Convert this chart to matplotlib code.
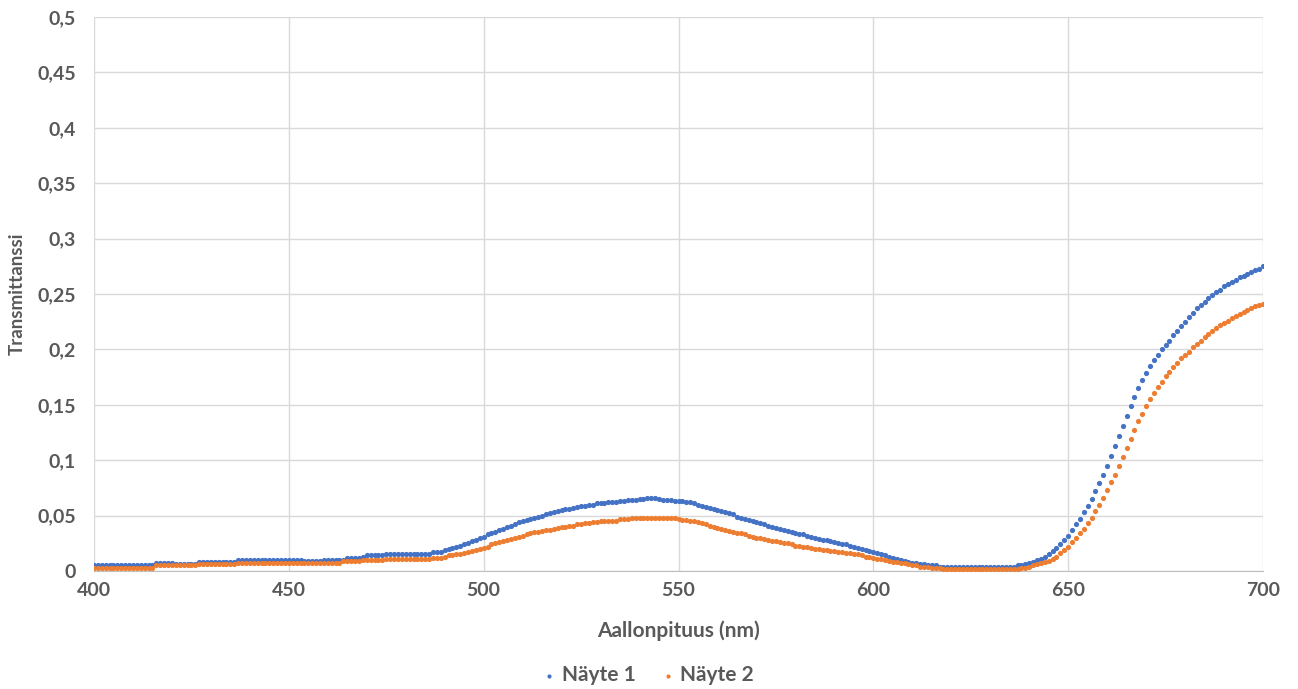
import numpy as np
import matplotlib
matplotlib.use('Agg')
import matplotlib.pyplot as plt
from matplotlib.ticker import FuncFormatter, MultipleLocator

# wavelengths 400..700 nm, one reading per nm
wavelength = np.arange(400, 701)

# Näyte 1 (blue), rows of 10 values: 400-409, 410-419, ...
nayte1 = [
    0.005, 0.005, 0.005, 0.005, 0.005, 0.005, 0.005, 0.005, 0.005, 0.005,
    0.005, 0.005, 0.005, 0.005, 0.005, 0.005, 0.007, 0.007, 0.007, 0.007,
    0.007, 0.006, 0.006, 0.006, 0.006, 0.006, 0.006, 0.008, 0.008, 0.008,
    0.008, 0.008, 0.008, 0.008, 0.008, 0.008, 0.008, 0.010, 0.010, 0.010,
    0.010, 0.010, 0.010, 0.010, 0.010, 0.010, 0.010, 0.010, 0.010, 0.010,
    0.010, 0.010, 0.010, 0.010, 0.009, 0.009, 0.009, 0.009, 0.009, 0.010,
    0.010, 0.010, 0.010, 0.010, 0.010, 0.012, 0.012, 0.012, 0.012, 0.013,
    0.014, 0.014, 0.014, 0.014, 0.014, 0.015, 0.015, 0.015, 0.015, 0.015,
    0.015, 0.015, 0.015, 0.015, 0.015, 0.015, 0.015, 0.017, 0.017, 0.017,
    0.019, 0.020, 0.021, 0.022, 0.023, 0.024, 0.025, 0.027, 0.028, 0.030,
    0.031, 0.033, 0.034, 0.035, 0.037, 0.038, 0.040, 0.041, 0.042, 0.044,
    0.045, 0.046, 0.047, 0.048, 0.049, 0.050, 0.051, 0.052, 0.053, 0.054,
    0.055, 0.056, 0.056, 0.057, 0.058, 0.059, 0.059, 0.060, 0.060, 0.061,
    0.061, 0.061, 0.062, 0.062, 0.062, 0.063, 0.063, 0.064, 0.064, 0.064,
    0.065, 0.065, 0.066, 0.066, 0.066, 0.065, 0.064, 0.064, 0.064, 0.063,
    0.063, 0.063, 0.062, 0.062, 0.061, 0.060, 0.059, 0.058, 0.057, 0.056,
    0.055, 0.054, 0.053, 0.052, 0.051, 0.049, 0.048, 0.047, 0.046, 0.045,
    0.044, 0.043, 0.042, 0.041, 0.040, 0.039, 0.038, 0.037, 0.036, 0.035,
    0.034, 0.033, 0.033, 0.032, 0.031, 0.030, 0.029, 0.028, 0.028, 0.027,
    0.026, 0.025, 0.024, 0.024, 0.023, 0.022, 0.021, 0.020, 0.019, 0.018,
    0.017, 0.016, 0.015, 0.014, 0.013, 0.012, 0.011, 0.010, 0.009, 0.008,
    0.007, 0.007, 0.006, 0.006, 0.005, 0.005, 0.005, 0.004, 0.004, 0.004,
    0.004, 0.004, 0.004, 0.004, 0.004, 0.004, 0.004, 0.004, 0.004, 0.004,
    0.004, 0.004, 0.004, 0.004, 0.004, 0.004, 0.004, 0.005, 0.005, 0.006,
    0.007, 0.008, 0.010, 0.011, 0.013, 0.015, 0.018, 0.021, 0.024, 0.028,
    0.032, 0.037, 0.042, 0.047, 0.053, 0.059, 0.065, 0.072, 0.079, 0.087,
    0.095, 0.104, 0.113, 0.122, 0.131, 0.140, 0.149, 0.157, 0.165, 0.172,
    0.179, 0.185, 0.190, 0.195, 0.200, 0.204, 0.208, 0.213, 0.217, 0.221,
    0.225, 0.229, 0.233, 0.237, 0.240, 0.243, 0.246, 0.249, 0.252, 0.254,
    0.257, 0.259, 0.261, 0.263, 0.265, 0.266, 0.268, 0.270, 0.272, 0.273,
    0.275,
]

# Näyte 2 (orange)
nayte2 = [
    0.003, 0.003, 0.003, 0.003, 0.003, 0.003, 0.003, 0.003, 0.003, 0.003,
    0.003, 0.003, 0.003, 0.003, 0.003, 0.003, 0.005, 0.005, 0.005, 0.005,
    0.005, 0.005, 0.005, 0.005, 0.005, 0.005, 0.005, 0.006, 0.006, 0.006,
    0.006, 0.006, 0.006, 0.006, 0.006, 0.006, 0.006, 0.007, 0.007, 0.007,
    0.007, 0.007, 0.007, 0.007, 0.007, 0.007, 0.007, 0.007, 0.007, 0.007,
    0.007, 0.007, 0.007, 0.007, 0.007, 0.007, 0.007, 0.007, 0.007, 0.007,
    0.007, 0.007, 0.007, 0.007, 0.009, 0.009, 0.009, 0.009, 0.009, 0.010,
    0.010, 0.010, 0.010, 0.010, 0.010, 0.011, 0.011, 0.011, 0.011, 0.011,
    0.011, 0.011, 0.011, 0.011, 0.011, 0.011, 0.011, 0.012, 0.012, 0.012,
    0.013, 0.014, 0.014, 0.015, 0.015, 0.016, 0.017, 0.018, 0.019, 0.020,
    0.021, 0.022, 0.024, 0.025, 0.026, 0.027, 0.028, 0.029, 0.030, 0.031,
    0.032, 0.033, 0.034, 0.035, 0.035, 0.036, 0.037, 0.037, 0.038, 0.039,
    0.040, 0.040, 0.041, 0.041, 0.042, 0.042, 0.043, 0.043, 0.044, 0.044,
    0.045, 0.045, 0.045, 0.045, 0.045, 0.047, 0.047, 0.047, 0.048, 0.048,
    0.048, 0.048, 0.048, 0.048, 0.048, 0.048, 0.048, 0.048, 0.048, 0.048,
    0.047, 0.046, 0.046, 0.045, 0.045, 0.044, 0.043, 0.042, 0.041, 0.040,
    0.039, 0.038, 0.037, 0.036, 0.035, 0.034, 0.034, 0.033, 0.032, 0.031,
    0.030, 0.030, 0.029, 0.028, 0.027, 0.027, 0.026, 0.025, 0.025, 0.024,
    0.023, 0.023, 0.022, 0.022, 0.021, 0.020, 0.020, 0.019, 0.019, 0.018,
    0.018, 0.017, 0.017, 0.016, 0.016, 0.015, 0.015, 0.014, 0.013, 0.013,
    0.012, 0.011, 0.011, 0.010, 0.009, 0.008, 0.008, 0.007, 0.007, 0.006,
    0.005, 0.005, 0.004, 0.004, 0.004, 0.003, 0.003, 0.003, 0.002, 0.002,
    0.002, 0.002, 0.002, 0.002, 0.002, 0.002, 0.002, 0.002, 0.002, 0.002,
    0.002, 0.002, 0.002, 0.002, 0.002, 0.002, 0.002, 0.002, 0.003, 0.003,
    0.004, 0.005, 0.006, 0.007, 0.008, 0.009, 0.011, 0.013, 0.016, 0.019,
    0.022, 0.026, 0.030, 0.034, 0.038, 0.043, 0.048, 0.054, 0.060, 0.066,
    0.073, 0.080, 0.087, 0.095, 0.103, 0.111, 0.119, 0.127, 0.135, 0.142,
    0.149, 0.155, 0.161, 0.166, 0.171, 0.176, 0.180, 0.184, 0.188, 0.192,
    0.195, 0.198, 0.202, 0.205, 0.208, 0.211, 0.214, 0.217, 0.219, 0.222,
    0.224, 0.226, 0.228, 0.230, 0.232, 0.234, 0.236, 0.237, 0.239, 0.240,
    0.241,
]

BLUE = '#4472C4'
ORANGE = '#ED7D31'
TEXT = '#595959'
GRID = '#d9d9d9'

plt.rcParams['font.family'] = ['Lato', 'DejaVu Sans']

fig = plt.figure(figsize=(12.98, 6.89), dpi=100)
ax = fig.add_axes([94 / 1298, 118 / 689, 1169 / 1298, 554 / 689])

ax.scatter(wavelength, nayte1, s=14, color=BLUE, linewidths=0, label='Näyte 1', zorder=3)
ax.scatter(wavelength, nayte2, s=14, color=ORANGE, linewidths=0, label='Näyte 2', zorder=3)

ax.set_xlim(400, 700)
ax.set_ylim(0, 0.5)
ax.xaxis.set_major_locator(MultipleLocator(50))
ax.yaxis.set_major_locator(MultipleLocator(0.05))
ax.yaxis.set_major_formatter(FuncFormatter(lambda v, p: ('%g' % round(v, 3)).replace('.', ',')))

ax.grid(True, color=GRID, linewidth=1.0)
ax.set_axisbelow(True)
for side in ['top', 'right', 'left']:
    ax.spines[side].set_visible(False)
ax.spines['bottom'].set_color('#bfbfbf')
ax.tick_params(length=0, labelsize=14, labelcolor=TEXT)
ax.tick_params(axis='x', pad=8)
ax.tick_params(axis='y', pad=13)
for lab in ax.get_xticklabels() + ax.get_yticklabels():
    lab.set_fontweight('bold')

ax.set_xlabel('Aallonpituus (nm)', fontsize=15, fontweight='bold', color=TEXT)
ax.xaxis.set_label_coords(0.5, -0.09)
ax.set_ylabel('Transmittanssi', fontsize=13.5, fontweight='bold', color=TEXT)
ax.yaxis.set_label_coords(-0.058, 0.5)

fig.legend(loc='lower center', bbox_to_anchor=(0.5, -0.022), ncol=2, frameon=False,
           labelcolor=TEXT, handlelength=0.5, handletextpad=0.35, columnspacing=1.3,
           markerscale=0.8, prop={'weight': 'bold', 'size': 15})

fig.savefig('out.png', dpi=100)
